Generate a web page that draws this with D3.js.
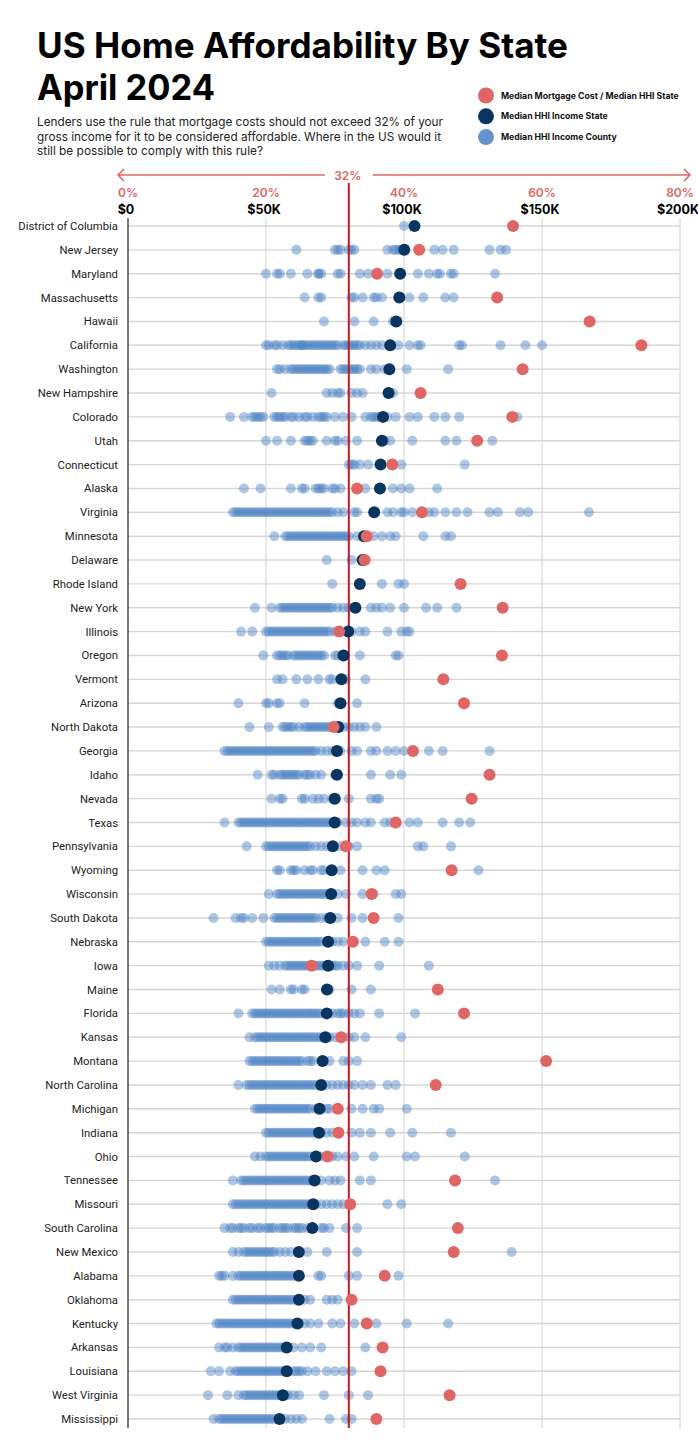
<!DOCTYPE html>
<html>
<head>
<meta charset="utf-8">
<script src="https://cdn.jsdelivr.net/npm/d3@7"></script>
<style>
  html, body { margin: 0; padding: 0; background: #fff; }
  svg { display: block; }
</style>
</head>
<body>
<div id="chart"></div>
<script>
const states = ["District of Columbia","New Jersey","Maryland","Massachusetts","Hawaii","California","Washington","New Hampshire","Colorado","Utah","Connecticut","Alaska","Virginia","Minnesota","Delaware","Rhode Island","New York","Illinois","Oregon","Vermont","Arizona","North Dakota","Georgia","Idaho","Nevada","Texas","Pennsylvania","Wyoming","Wisconsin","South Dakota","Nebraska","Iowa","Maine","Florida","Kansas","Montana","North Carolina","Michigan","Indiana","Ohio","Tennessee","Missouri","South Carolina","New Mexico","Alabama","Oklahoma","Kentucky","Arkansas","Louisiana","West Virginia","Mississippi"];

// Median household income, state ($K)
const stateIncome = [103.8,100.1,98.6,98.3,97.2,95.0,94.7,94.4,92.4,92.0,91.5,91.3,89.2,85.5,85.0,84.0,82.4,79.8,78.1,77.3,77.0,76.2,75.7,75.7,74.9,74.9,74.2,73.8,73.6,73.3,72.5,72.5,72.1,72.0,71.5,70.5,70.0,69.4,69.2,68.1,67.6,67.1,66.8,61.9,61.9,61.9,61.4,57.5,57.5,56.1,54.9];

// Median mortgage cost / median HHI, state (%)
const mortgageShare = [55.8,42.2,36.1,53.5,66.9,74.4,57.2,42.4,55.7,50.6,38.3,33.2,42.6,34.6,34.3,48.2,54.3,30.6,54.2,45.7,48.7,29.8,41.3,52.4,49.8,38.8,31.6,46.9,35.3,35.6,32.6,26.6,44.9,48.7,30.9,60.6,44.6,30.4,30.5,28.9,47.4,32.2,47.8,47.2,37.2,32.4,34.6,36.9,36.6,46.6,36.0];

// Median household income, counties ($K), one list per state
const countyIncome = [
  [100],
  [61,75,76,77,80,81,82,94,96,97,98,99,111,114,118,131,135,137],
  [50,54,55,59,65,69,69,70,76,77,84,87,94,105,109,112,113,117,118,133],
  [64,69,70,81,82,85,89,90,92,102,107,115,118],
  [71,82,89,96],
  [50,51,53,54,56,58,59,60,61,62,63,63,64,65,66,67,68,69,70,71,72,73,74,75,76,78,79,80,81,82,83,84,86,88,90,92,95,98,102,105,106,120,121,135,144,150],
  [54,55,57,59,60,61,62,63,64,65,66,67,68,69,70,71,72,73,77,78,79,80,81,82,83,84,88,90,93,101,116],
  [52,72,74,76,77,81,83,85,96],
  [37,42,45,46,47,48,49,53,54,55,56,57,59,60,62,64,65,67,69,70,71,72,75,78,81,86,88,89,90,91,94,97,102,105,111,115,120,141],
  [50,54,59,64,65,66,67,72,75,76,79,83,93,95,103,115,119,132],
  [80,81,82,84,87,99,122],
  [42,48,59,63,64,68,69,70,71,74,75,77,86,96,99,102,112],
  [38,39,40,41,42,43,44,45,46,47,48,49,50,51,52,53,54,55,56,57,58,59,60,61,62,63,64,65,66,67,68,69,70,71,72,73,74,76,78,82,83,94,96,99,100,103,109,111,115,119,123,131,134,142,145,167],
  [53,57,58,59,60,61,62,63,64,65,66,67,68,69,70,71,72,73,74,75,76,77,78,79,80,83,89,92,95,97,107,115,117],
  [72,81,85],
  [74,92,98,100],
  [46,52,55,56,57,58,59,60,61,62,63,64,65,66,67,68,69,70,71,72,73,74,76,78,80,88,90,92,95,100,108,112,119],
  [41,45,50,51,52,53,54,55,56,57,58,59,60,61,62,63,64,65,66,67,68,69,70,71,72,73,75,77,81,84,86,94,99,101,102],
  [49,54,55,56,57,58,60,61,62,63,64,65,66,67,68,69,70,71,75,76,84,97,98],
  [54,56,61,65,69,73,74,79,86],
  [40,50,51,54,55,64,76,83],
  [44,51,56,57,58,59,60,62,64,65,66,67,68,69,70,71,72,73,74,75,76,78,80,82,84,86,90],
  [35,36,37,38,39,40,41,42,43,44,45,46,47,48,49,50,51,52,53,54,55,56,57,58,59,60,61,62,63,64,65,66,67,68,70,72,74,77,81,83,88,90,94,97,100,109,114,131],
  [47,52,53,55,56,57,58,59,60,61,62,64,65,66,68,70,75,88,95,99],
  [52,55,56,63,64,67,69,71,74,80,88,90,91],
  [35,40,41,42,43,44,45,46,47,48,49,50,51,52,53,54,55,56,57,58,59,60,61,62,63,64,65,66,67,68,69,70,71,72,73,74,76,79,81,83,86,88,93,95,102,105,114,120,124],
  [43,50,51,52,53,54,55,56,57,58,59,60,61,62,63,64,65,66,68,70,72,74,77,80,83,105,107,117],
  [54,55,59,60,61,64,66,67,70,71,77,85,90,93,127],
  [51,54,55,56,57,58,59,60,61,62,63,64,65,66,67,68,69,70,71,72,74,76,79,85,89,97,99],
  [31,39,41,42,45,49,53,54,55,56,57,58,59,60,61,62,63,64,65,66,67,68,70,72,76,81,85,98],
  [50,51,52,53,54,55,56,57,58,59,60,61,62,63,64,65,66,67,68,69,70,72,74,76,78,86,93,98],
  [51,53,55,57,58,59,60,61,62,63,64,65,66,67,68,69,70,71,72,73,74,75,76,78,80,83,91,109],
  [52,55,59,60,63,64,73,81,88],
  [40,45,46,47,48,49,50,51,52,53,54,55,56,57,58,59,60,61,62,63,64,65,66,67,68,69,70,72,74,76,77,78,80,82,84,91,104],
  [44,46,47,48,49,50,51,52,53,54,55,56,57,58,59,60,61,62,63,64,65,66,67,68,69,70,71,73,75,77,80,82,86,99],
  [44,45,46,47,48,49,50,51,52,53,54,55,56,57,58,59,60,61,62,63,65,66,67,71,73,78,80,83],
  [40,43,44,45,46,47,48,49,50,51,52,53,54,55,56,57,58,59,60,61,62,63,64,65,66,67,68,70,72,74,76,78,80,82,85,88,94,97],
  [46,47,48,49,50,51,52,53,54,55,56,57,58,59,60,61,62,63,64,65,66,68,70,72,73,76,81,85,89,91,101],
  [50,51,52,53,54,55,56,57,58,59,60,61,62,63,64,65,66,67,68,70,72,74,76,81,84,88,95,103,117],
  [46,48,50,51,52,53,54,55,56,57,58,59,60,61,62,63,64,65,66,68,70,72,74,76,79,82,89,101,104,122],
  [38,41,42,43,44,45,46,47,48,49,50,51,52,53,54,55,56,57,58,59,60,61,62,63,64,65,66,67,70,73,75,77,84,88,133],
  [38,39,40,41,42,43,44,45,46,47,48,49,50,51,52,53,54,55,56,57,58,59,60,61,62,63,64,65,66,68,70,72,74,76,78,94,99],
  [35,37,38,40,41,42,44,45,47,48,50,51,52,53,55,56,57,58,60,61,62,63,65,70,71,73,79,83],
  [38,40,42,43,44,45,46,47,48,49,50,51,52,53,55,57,59,65,72,83,139],
  [33,34,35,38,40,41,42,43,44,45,46,47,48,49,50,51,52,53,54,55,56,57,58,59,60,69,70,80,83,98],
  [38,39,40,41,42,43,44,45,46,47,48,49,50,51,52,53,54,55,56,57,58,59,60,62,64,66,72,74,76],
  [32,33,34,35,36,37,38,39,40,41,42,43,44,45,46,47,48,49,50,51,52,53,54,55,56,57,58,59,60,61,62,64,66,69,74,77,82,90,101,116],
  [33,35,36,38,40,41,42,43,44,45,46,47,48,49,50,51,52,53,54,55,56,57,60,63,66,70,86],
  [30,33,37,39,40,41,42,43,44,45,46,47,48,49,50,51,52,53,54,55,56,57,58,60,61,62,63,65,68,72,75,78,81],
  [29,36,40,42,43,44,45,46,47,48,49,50,51,52,53,54,55,56,57,58,60,62,71,80,87],
  [31,33,34,35,36,37,38,39,40,41,42,43,44,45,46,47,48,49,50,51,52,53,55,57,59,61,63,73,79,81]
];

const dollarTicks = [0, 50, 100, 150, 200];
const dollarLabels = ["$0", "$50K", "$100K", "$150K", "$200K"];
const pctTicks = [0, 20, 40, 60, 80];
const thresholdPct = 32;

const legendItems = [
  {label: "Median Mortgage Cost / Median HHI State", color: "#e06666", opacity: 1},
  {label: "Median HHI Income State", color: "#0b3561", opacity: 1},
  {label: "Median HHI Income County", color: "#4a80c4", opacity: 0.85}
];

const W = 698, H = 1443;
const RED = "#e06666", NAVY = "#0b3561", BLUE = "#4a80c4", LINE_RED = "#c41a1f";

const svg = d3.select("#chart").append("svg").attr("width", W).attr("height", H)
  .style("font-family", "Inter, 'Noto Sans', sans-serif");

const x = d3.scaleLinear().domain([0, 200]).range([128, 680]);
const xp = d3.scaleLinear().domain([0, 80]).range([128, 680]);
const y = d3.scalePoint().domain(states).range([226, 1419]);

// Title
svg.append("text").attr("x", 37).attr("y", 58)
  .attr("font-size", 35).attr("font-weight", 700).attr("fill", "#000")
  .attr("textLength", 531).attr("lengthAdjust", "spacingAndGlyphs")
  .text("US Home Affordability By State");
svg.append("text").attr("x", 37).attr("y", 100)
  .attr("font-size", 35).attr("font-weight", 700).attr("fill", "#000")
  .attr("textLength", 178).attr("lengthAdjust", "spacingAndGlyphs")
  .text("April 2024");

const sub = ["Lenders use the rule that mortgage costs should not exceed 32% of your",
  "gross income for it to be considered affordable. Where in the US would it",
  "still be possible to comply with this rule?"];
const subW = [406, 404, 226];
sub.forEach((s, i) => {
  svg.append("text").attr("x", 37).attr("y", 126 + i * 14.6)
    .attr("font-size", 12).attr("fill", "#222")
    .attr("textLength", subW[i]).attr("lengthAdjust", "spacingAndGlyphs")
    .text(s);
});

// Legend
const lg = svg.append("g");
legendItems.forEach((d, i) => {
  const cy = 95.5 + i * 20.8;
  lg.append("circle").attr("cx", 486).attr("cy", cy).attr("r", 8).attr("fill", d.color).attr("fill-opacity", d.opacity);
  lg.append("text").attr("x", 501).attr("y", cy + 3).attr("font-size", 8.7).attr("font-weight", 700)
    .attr("fill", "#111").text(d.label);
});

// Top arrow with 32%
const ay = 175;
const xr = xp(thresholdPct);
svg.append("line").attr("x1", 118).attr("x2", xr - 24).attr("y1", ay).attr("y2", ay).attr("stroke", RED).attr("stroke-width", 1.6);
svg.append("line").attr("x1", xr + 24).attr("x2", 690).attr("y1", ay).attr("y2", ay).attr("stroke", RED).attr("stroke-width", 1.6);
svg.append("path").attr("d", `M124,169 L118,175 L124,181`).attr("fill", "none").attr("stroke", RED).attr("stroke-width", 1.6);
svg.append("path").attr("d", `M684,169 L690,175 L684,181`).attr("fill", "none").attr("stroke", RED).attr("stroke-width", 1.6);
svg.append("text").attr("x", xr - 1).attr("y", ay + 4.5).attr("text-anchor", "middle")
  .attr("font-size", 12).attr("font-weight", 600).attr("fill", RED).text(thresholdPct + "%");

// Percent axis labels
svg.append("g").selectAll("text").data(pctTicks).join("text")
  .attr("x", d => xp(d)).attr("y", 197).attr("text-anchor", "middle")
  .attr("font-size", 12).attr("font-weight", 600).attr("fill", RED)
  .text(d => d + "%");

// Dollar axis labels
svg.append("g").selectAll("text").data(dollarTicks).join("text")
  .attr("x", d => x(d) - 2).attr("y", 214).attr("text-anchor", "middle")
  .attr("font-size", 12.5).attr("font-weight", 700).attr("fill", "#000")
  .text((d, i) => dollarLabels[i]);

const yTop = 218, yBot = 1428;

// vertical gridlines
svg.append("g").selectAll("line").data(dollarTicks.slice(1)).join("line")
  .attr("x1", d => x(d)).attr("x2", d => x(d)).attr("y1", yTop).attr("y2", yBot)
  .attr("stroke", "#d9d9d9").attr("stroke-width", 1.2);

// row lines
svg.append("g").selectAll("line").data(states).join("line")
  .attr("x1", x(0)).attr("x2", x(200)).attr("y1", d => y(d)).attr("y2", d => y(d))
  .attr("stroke", "#d6d6d6").attr("stroke-width", 1.4);

// left axis line
svg.append("line").attr("x1", x(0)).attr("x2", x(0)).attr("y1", yTop).attr("y2", yBot)
  .attr("stroke", "#222").attr("stroke-width", 1.2);

// row labels
svg.append("g").selectAll("text").data(states).join("text")
  .attr("x", 118).attr("y", d => y(d) + 4).attr("text-anchor", "end")
  .attr("font-family", "Roboto, 'Noto Sans', sans-serif")
  .attr("font-size", 11.3).attr("fill", "#222").text(d => d);

// county dots
const countyPts = [];
states.forEach((s, i) => countyIncome[i].forEach(v => countyPts.push({s, v})));
svg.append("g").selectAll("circle").data(countyPts).join("circle")
  .attr("cx", d => x(d.v)).attr("cy", d => y(d.s)).attr("r", 5)
  .attr("fill", BLUE).attr("fill-opacity", 0.45);

// threshold line
svg.append("line").attr("x1", xr).attr("x2", xr).attr("y1", 183).attr("y2", yBot)
  .attr("stroke", LINE_RED).attr("stroke-width", 2);

// state median income dots
svg.append("g").selectAll("circle").data(states).join("circle")
  .attr("cx", (d, i) => x(stateIncome[i])).attr("cy", d => y(d)).attr("r", 6)
  .attr("fill", NAVY);

// mortgage share dots
svg.append("g").selectAll("circle").data(states).join("circle")
  .attr("cx", (d, i) => xp(mortgageShare[i])).attr("cy", d => y(d)).attr("r", 6)
  .attr("fill", RED);
</script>
</body>
</html>
